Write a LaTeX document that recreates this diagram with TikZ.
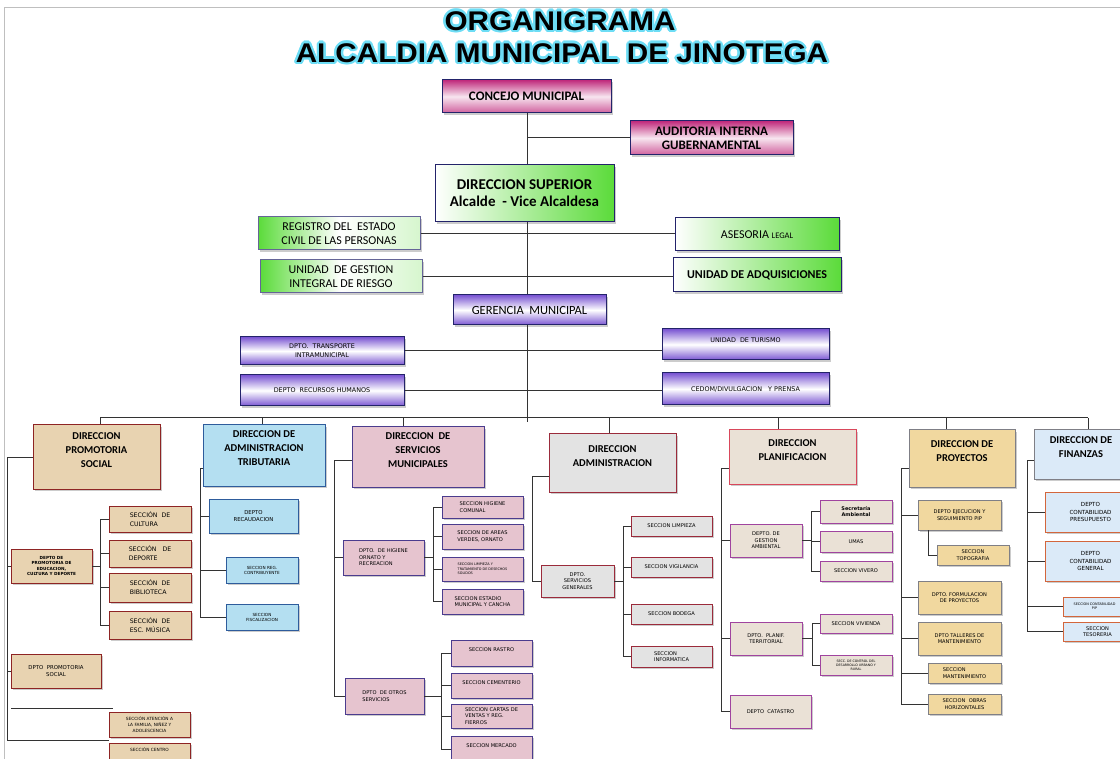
\documentclass[tikz,border=0pt]{standalone}
\usepackage{fontspec}
\setmainfont{Carlito}
\newfontfamily\titulofont{Liberation Sans}
\newfontfamily\chica{DejaVu Sans}
\usepackage{tikz}
\usetikzlibrary{positioning,shadows}

\definecolor{fucsia}{HTML}{C02A7C}
\definecolor{verde}{HTML}{5BDB3A}
\definecolor{morado}{HTML}{7A55D2}
\definecolor{marino}{HTML}{23236A}
\definecolor{brillo}{HTML}{3CD2F2}
\definecolor{papiro}{HTML}{E8D3B1}
\definecolor{rojooscuro}{HTML}{8E2424}
\definecolor{celeste}{HTML}{B4DFF1}
\definecolor{azulborde}{HTML}{2E5C9C}
\definecolor{rosa}{HTML}{E6C4CF}
\definecolor{violeta}{HTML}{4B3C8E}
\definecolor{marmol}{HTML}{E3E3E3}
\definecolor{granate}{HTML}{9B2B3B}
\definecolor{arena}{HTML}{EAE1D6}
\definecolor{rojo}{HTML}{D9475B}
\definecolor{lila}{HTML}{A0449F}
\definecolor{oro}{HTML}{F1D89F}
\definecolor{gris}{HTML}{7F7F86}
\definecolor{hielo}{HTML}{DBEAF8}
\definecolor{naranja}{HTML}{D3663C}

\newcommand{\fs}[2]{\fontsize{#1}{#2}\selectfont}
\newcommand{\hueco}{\\\mbox{}}
\newcommand{\caja}[7]{\node[#1, minimum width={#5-#3}, minimum height={#6-#4}] (#2) at ({(#3+#5)/2},{(#4+#6)/2}) {#7};}

\tikzset{
  caja/.style={draw, align=center, inner sep=1pt, line width=1pt,
    drop shadow={shadow xshift=1.6pt, shadow yshift=-1.6pt, opacity=.4}},
  titulo/.style={font=\titulofont\bfseries\fs{27}{30}, inner sep=0pt},
  magbox/.style={caja, draw=marino, top color=fucsia, bottom color=fucsia!75, middle color=fucsia!12,
    font=\bfseries\fs{13}{14}},
  verdeD/.style={caja, draw=marino, left color=white, right color=verde, font=\fs{12}{14}},
  verdeI/.style={caja, draw=marino!70, left color=verde, right color=verde!25, middle color=white, font=\fs{12}{14}},
  moradobox/.style={caja, draw=marino, top color=morado, bottom color=morado, middle color=white,
    font=\chica\fs{6.4}{9}},
  cajadir/.style={caja, font=\bfseries\fs{10.5}{14}},
  dirP/.style={cajadir, fill=papiro, draw=rojooscuro},
  dirT/.style={cajadir, fill=celeste, draw=azulborde},
  dirS/.style={cajadir, fill=rosa, draw=violeta},
  dirA/.style={cajadir, fill=marmol, draw=granate},
  dirL/.style={cajadir, fill=arena, draw=rojo},
  dirY/.style={cajadir, fill=oro, draw=gris},
  dirF/.style={cajadir, fill=hielo, draw=gris},
  sub/.style={caja, line width=.8pt, font=\chica\fs{5.1}{6.6}},
  subP/.style={sub, fill=papiro, draw=rojooscuro},
  subT/.style={sub, fill=celeste, draw=azulborde},
  subS/.style={sub, fill=rosa, draw=violeta, align=left},
  subA/.style={sub, fill=marmol, draw=granate},
  subL/.style={sub, fill=arena, draw=lila},
  subY/.style={sub, fill=oro, draw=gris},
  subF/.style={sub, fill=hielo, draw=naranja},
  linea/.style={draw=black!80, line width=1pt}
}

\begin{document}
\begin{tikzpicture}[x=1pt, y=-1pt]
\useasboundingbox (0,0) rectangle (1120,759);
\clip (0,0) rectangle (1120,759);
\draw[black!25] (4,759) -- (4,7) -- (1120,7);

% titulo
\foreach \a in {0,30,...,330}{
  \node[titulo, text=brillo!75, xshift={2.4*cos(\a)}, yshift={2.4*sin(\a)}] (gA\a) at (560,21) {\scalebox{1.1}[1]{ORGANIGRAMA}};
  \node[titulo, text=brillo!75, xshift={2.4*cos(\a)}, yshift={2.4*sin(\a)}] (gB\a) at (562,53) {\scalebox{1.1}[1]{ALCALDIA\ MUNICIPAL\ DE\ JINOTEGA}};
}
\node[titulo] (tit1) at (560,21) {\scalebox{1.1}[1]{ORGANIGRAMA}};
\node[titulo] (tit2) at (562,53) {\scalebox{1.1}[1]{ALCALDIA\ MUNICIPAL\ DE\ JINOTEGA}};

% nivel superior
\caja{magbox}{concejo}{442}{80}{611}{113}{CONCEJO MUNICIPAL}
\caja{magbox}{auditoria}{630}{121}{793}{155}{AUDITORIA INTERNA\\GUBERNAMENTAL}
\caja{verdeD, font=\bfseries\fs{15}{17}}{dirsup}{435}{165}{614}{222}{DIRECCION SUPERIOR\\Alcalde\ \ - Vice Alcaldesa}
\caja{verdeI}{registro}{258}{217}{420}{250}{REGISTRO DEL\ \ ESTADO\\CIVIL DE LAS PERSONAS}
\caja{verdeD}{asesoria}{675}{218}{839}{251}{ASESORIA {\fs{8.5}{10}LEGAL}}
\caja{verdeI}{ugir}{260}{260}{422}{293}{UNIDAD\ \ DE GESTION\\INTEGRAL DE RIESGO}
\caja{verdeD, font=\bfseries\fs{12}{14}}{adquis}{673}{258}{841}{292}{UNIDAD DE ADQUISICIONES}
\caja{moradobox, font=\fs{12.5}{14}}{gerencia}{453}{295}{606}{325}{GERENCIA\ \ MUNICIPAL}
\caja{moradobox}{transporte}{240}{337}{404}{365}{DPTO.\ \ TRANSPORTE\\INTRAMUNICIPAL}
\caja{moradobox}{turismo}{662}{329}{829}{360}{UNIDAD\ \ DE TURISMO\hueco}
\caja{moradobox}{rrhh}{240}{375}{404}{406}{DEPTO\ \ RECURSOS HUMANOS}
\caja{moradobox}{cedom}{662}{373}{829}{405}{CEDOM/DIVULGACION\ \ \ Y PRENSA}

% direcciones
\caja{dirP}{promo}{33}{425}{160}{489}{DIRECCION\\PROMOTORIA\\SOCIAL\hueco}
\caja{dirT}{tribut}{203}{425}{325}{486}{DIRECCION DE\\ADMINISTRACION\\TRIBUTARIA\hueco}
\caja{dirS}{servmun}{352}{427}{484}{487}{DIRECCION\ \ DE\\SERVICIOS\\MUNICIPALES\hueco}
\caja{dirA}{admin}{549}{434}{676}{492}{DIRECCION\\ADMINISTRACION\hueco}
\caja{dirL}{planif}{729}{430}{856}{484}{DIRECCION\\PLANIFICACION\hueco}
\caja{dirY}{proyec}{909}{430}{1015}{487}{DIRECCION DE\\PROYECTOS\hueco}
\caja{dirF}{finanz}{1034}{430}{1128}{479}{DIRECCION DE\\FINANZAS\hueco}

% promotoria social
\caja{subP, font=\chica\bfseries\fs{4.2}{5.4}}{deptoedu}{11}{549}{92}{583}{DEPTO DE\\PROMOTORIA DE\\EDUCACION,\\CULTURA Y DEPORTE}
\caja{subP, align=left, font=\chica\fs{6.2}{9}}{cultura}{109}{506}{191}{532}{SECCIÓN\ \ DE\\CULTURA}
\caja{subP, align=left, font=\chica\fs{6.2}{9}}{deporte}{109}{540}{191}{567}{SECCIÓN\ \ \ DE\\DEPORTE}
\caja{subP, align=left, font=\chica\fs{6.2}{9}}{biblio}{109}{573}{191}{602}{SECCIÓN\ \ DE\\BIBLIOTECA}
\caja{subP, align=left, font=\chica\fs{6.2}{9}}{musica}{109}{611}{191}{639}{SECCIÓN\ \ DE\\ESC. MÚSICA}
\caja{subP, font=\chica\fs{5.4}{7.5}}{promsoc}{11}{654}{101}{688}{DPTO\ \ PROMOTORIA\\SOCIAL}
\caja{subP, font=\chica\fs{4.3}{5.8}}{familia}{109}{712}{190}{737}{SECCIÓN ATENCIÓN A\\LA FAMILIA, NIÑEZ Y\\ADOLESCENCIA}
\caja{subP, font=\chica\fs{4.3}{5.8}}{centro}{109}{743}{190}{762}{SECCIÓN CENTRO\hueco}

% administracion tributaria
\caja{subT, font=\chica\fs{5.4}{7.5}}{recaud}{209}{499}{298}{533}{DEPTO\\RECAUDACION}
\caja{subT, font=\chica\fs{4.2}{5}}{regcont}{226}{557}{298}{583}{SECCION REG.\\CONTRIBUYENTE}
\caja{subT, font=\chica\fs{4.2}{5}}{fiscal}{226}{604}{298}{630}{SECCION\\FISCALIZACION}

% servicios municipales
\caja{subS}{higiene}{343}{540}{424}{575}{DPTO.\ \ DE HIGIENE\\ORNATO Y\\RECREACION}
\caja{subS}{otros}{345}{678}{424}{714}{DPTO\ \ DE OTROS\\SERVICIOS}
\caja{subS}{hcomunal}{442}{496}{523}{518}{SECCION HIGIENE\\COMUNAL}
\caja{subS}{averdes}{442}{524}{523}{549}{SECCION DE AREAS\\VERDES, ORNATO}
\caja{subS, font=\chica\fs{3.4}{4.4}}{limpdes}{442}{557}{523}{581}{SECCION LIMPIEZA Y\\TRATAMIENTO DE DESECHOS\\SOLIDOS}
\caja{subS}{estadio}{442}{589}{523}{614}{SECCION ESTADIO\\MUNICIPAL Y CANCHA}
\caja{subS}{rastro}{451}{640}{532}{666}{SECCION RASTRO\hueco}
\caja{subS}{cement}{451}{673}{532}{698}{SECCION CEMENTERIO\hueco}
\caja{subS}{cartas}{451}{704}{532}{728}{SECCION CARTAS DE\\VENTAS Y REG.\\FIERROS}
\caja{subS}{mercado}{451}{736}{532}{762}{SECCION MERCADO\hueco}

% administracion
\caja{subA}{servgen}{541}{565}{614}{597}{DPTO.\\SERVICIOS\\GENERALES}
\caja{subA}{limpieza}{631}{516}{712}{536}{SECCION LIMPIEZA}
\caja{subA}{vigil}{631}{557}{712}{577}{SECCION VIGILANCIA}
\caja{subA}{bodega}{631}{604}{712}{624}{SECCION BODEGA}
\caja{subA, align=left}{informat}{631}{646}{712}{667}{SECCION\\INFORMATICA}

% planificacion
\caja{subL}{gestamb}{730}{524}{802}{557}{DEPTO. DE\\GESTION\\AMBIENTAL}
\caja{subL}{planter}{730}{622}{802}{655}{DPTO.\ \ PLANIF.\\TERRITORIAL}
\caja{subL}{catastro}{730}{695}{811}{728}{DEPTO\ \ CATASTRO}
\caja{subL, font=\chica\bfseries\fs{5}{6.6}}{secamb}{820}{500}{892}{523}{Secretaría\\Ambiental}
\caja{subL}{umas}{820}{531}{892}{552}{UMAS}
\caja{subL}{vivero}{820}{561}{892}{581}{SECCION VIVERO}
\caja{subL}{vivienda}{820}{614}{892}{633}{SECCION VIVIENDA}
\caja{subL, font=\chica\fs{3.2}{4}}{control}{820}{655}{892}{675}{SECC. DE CONTROL DEL\\DESARROLLO URBANO Y\\RURAL}

% proyectos
\caja{subY}{ejec}{918}{500}{1001}{530}{DEPTO EJECUCION Y\\SEGUIMIENTO PIP}
\caja{subY}{topo}{937}{545}{1009}{565}{SECCION\\TOPOGRAFIA}
\caja{subY}{formul}{918}{581}{1001}{614}{DPTO. FORMULACION\\DE PROYECTOS}
\caja{subY}{talleres}{918}{622}{1001}{655}{DPTO TALLERES DE\\MANTENIMIENTO}
\caja{subY, align=left}{mant}{928}{663}{1001}{683}{SECCION\\MANTENIMIENTO}
\caja{subY}{obras}{928}{694}{1001}{714}{SECCION\ \ OBRAS\\HORIZONTALES}

% finanzas
\caja{subF, font=\chica\fs{5.6}{7.5}}{contpres}{1045}{492}{1136}{532}{DEPTO\\CONTABILIDAD\\PRESUPUESTO}
\caja{subF, font=\chica\fs{5.6}{7.5}}{contgen}{1045}{541}{1136}{581}{DEPTO\\CONTABILIDAD\\GENERAL}
\caja{subF, font=\chica\fs{3.4}{4.4}}{contpip}{1063}{597}{1126}{616}{SECCION CONTABILIDAD\\PIP}
\caja{subF}{tesor}{1063}{622}{1132}{641}{SECCION\\TESORERIA}

% eje central
\coordinate (eje) at (527,0);
\coordinate (busI) at (100,418);
\coordinate (busD) at (1088,418);
\draw[linea] (eje |- concejo.south) -- (eje |- dirsup.north);
\draw[linea] (eje |- auditoria.west) -- (auditoria.west);
\draw[linea] (eje |- dirsup.south) -- (eje |- gerencia.north);
\draw[linea] (registro.east) -- (registro.east -| asesoria.west);
\draw[linea] (ugir.east) -- (ugir.east -| adquis.west);
\draw[linea] (eje |- gerencia.south) -- ([yshift=-4pt]eje |- busI);
\draw[linea] (transporte.east) -- (transporte.east -| turismo.west);
\draw[linea] (rrhh.east) -- (rrhh.east -| cedom.west);
\draw[linea] (busI) -- (busD);
\foreach \d/\x in {promo/100,tribut/262,servmun/403,admin/609,planif/778,proyec/946,finanz/1088}{
  \coordinate (b\d) at (\x,418);
  \draw[linea] (b\d) -- (b\d |- \d.north);
}

% promotoria social
\coordinate (tPromo) at (7,740);
\draw[linea] (promo.west) -| (tPromo) -- (tPromo -| centro.west);
\foreach \n in {deptoedu,promsoc} \draw[linea] (\n.west) -- (\n.west -| tPromo);
\coordinate (rayaI) at (11,708);
\coordinate (rayaD) at (113,708);
\draw[linea] (rayaI) -- (rayaD);
\coordinate (tEdu) at (100,0);
\draw[linea] (deptoedu.east) -- (deptoedu.east -| tEdu);
\draw[linea] (cultura.west -| tEdu) -- (musica.west -| tEdu);
\foreach \n in {cultura,deporte,biblio,musica} \draw[linea] (\n.west) -- (\n.west -| tEdu);

% administracion tributaria
\coordinate (tTrib) at (200,468);
\draw[linea] (tTrib -| tribut.west) -- (tTrib) |- (fiscal.west);
\foreach \n in {recaud,regcont} \draw[linea] (\n.west) -- (\n.west -| tTrib);

% servicios municipales
\coordinate (tServ) at (334,460);
\draw[linea] (tServ -| servmun.west) -- (tServ) |- (otros.west);
\draw[linea] (higiene.west) -- (higiene.west -| tServ);
\coordinate (tHig) at (433,0);
\draw[linea] (higiene.east) -- (higiene.east -| tHig);
\draw[linea] (hcomunal.west -| tHig) -- (estadio.west -| tHig);
\foreach \n in {hcomunal,averdes,limpdes,estadio} \draw[linea] (\n.west) -- (\n.west -| tHig);
\coordinate (tOtr) at (441,0);
\draw[linea] (otros.east) -- (otros.east -| tOtr);
\draw[linea] (rastro.west -| tOtr) -- (mercado.west -| tOtr);
\foreach \n in {rastro,cement,cartas,mercado} \draw[linea] (\n.west) -- (\n.west -| tOtr);

% administracion
\coordinate (tAdm) at (532,476);
\draw[linea] (tAdm -| admin.west) -- (tAdm) |- (servgen.west);
\coordinate (tSG) at (623,0);
\draw[linea] (servgen.east) -- (servgen.east -| tSG);
\draw[linea] (limpieza.west -| tSG) -- (informat.west -| tSG);
\foreach \n in {limpieza,vigil,bodega,informat} \draw[linea] (\n.west) -- (\n.west -| tSG);

% planificacion
\coordinate (tPlan) at (721,468);
\draw[linea] (tPlan -| planif.west) -- (tPlan) |- (catastro.west);
\foreach \n in {gestamb,planter} \draw[linea] (\n.west) -- (\n.west -| tPlan);
\coordinate (tGA) at (811,0);
\draw[linea] (gestamb.east) -- (gestamb.east -| tGA);
\draw[linea] (secamb.west -| tGA) -- (vivero.west -| tGA);
\foreach \n in {secamb,umas,vivero} \draw[linea] (\n.west) -- (\n.west -| tGA);
\coordinate (tPT) at (812,0);
\draw[linea] (planter.east) -- (planter.east -| tPT);
\draw[linea] (vivienda.west -| tPT) -- (control.west -| tPT);
\foreach \n in {vivienda,control} \draw[linea] (\n.west) -- (\n.west -| tPT);

% proyectos
\coordinate (tProy) at (901,468);
\draw[linea] (tProy -| proyec.west) -- (tProy) |- (obras.west);
\foreach \n in {ejec,formul,talleres,mant} \draw[linea] (\n.west) -- (\n.west -| tProy);
\coordinate (tTopo) at (928,0);
\draw[linea] (ejec.south -| tTopo) |- (topo.west);

% finanzas
\coordinate (tFin) at (1027,460);
\draw[linea] (tFin -| finanz.west) -- (tFin) |- (tesor.west);
\foreach \n in {contpres,contgen,contpip} \draw[linea] (\n.west) -- (\n.west -| tFin);
\end{tikzpicture}
\end{document}
